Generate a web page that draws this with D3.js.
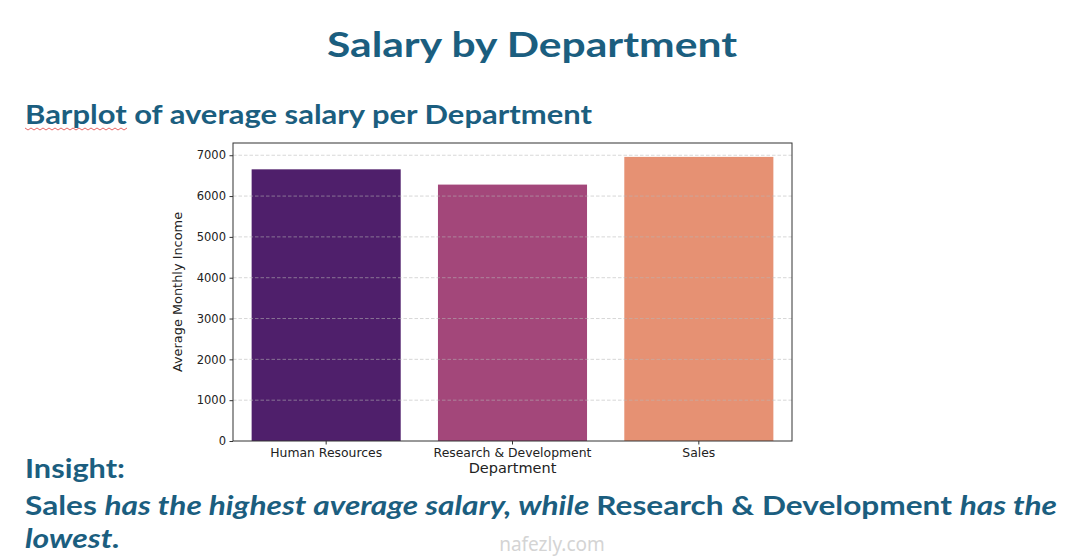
<!DOCTYPE html>
<meta charset="utf-8">
<script src="https://d3js.org/d3.v7.min.js"></script>
<style>
  body { margin: 0; background: #fff; }
</style>
<div id="dataviz"></div>

<script>
// data
const departments = ["Human Resources", "Research & Development", "Sales"];
const avgIncome = [6655, 6281, 6960];
const barColors = ["#4f1f6b", "#a3477a", "#e69173"];
const yTicks = [0, 1000, 2000, 3000, 4000, 5000, 6000, 7000];

const W = 1071, H = 556;
const blue = "#1b5e7f";

var svg = d3.select("#dataviz")
  .append("svg")
    .attr("width", W)
    .attr("height", H);

// slide headings
svg.append("text")
  .attr("x", 327).attr("y", 57)
  .attr("textLength", 410).attr("lengthAdjust", "spacingAndGlyphs")
  .style("font-family", "Lato, 'Open Sans', sans-serif")
  .style("font-weight", "bold").style("font-size", "35px")
  .attr("fill", blue)
  .text("Salary by Department");

svg.append("text")
  .attr("x", 25).attr("y", 123.5)
  .attr("textLength", 567).attr("lengthAdjust", "spacingAndGlyphs")
  .style("font-family", "Lato, 'Open Sans', sans-serif")
  .style("font-weight", "bold").style("font-size", "27px")
  .attr("fill", blue)
  .text("Barplot of average salary per Department");

// spell-check squiggle under "Barplot"
var sq = d3.path();
sq.moveTo(25, 128);
for (var i = 0; i < 34; i++) sq.lineTo(28 + i * 3, i % 2 ? 128 : 130);
svg.append("path").attr("d", sq.toString())
  .attr("fill", "none").attr("stroke", "#e04040").attr("stroke-width", 0.8);

// chart area
var margin = {left: 233, right: 792, top: 143, bottom: 441};

var x = d3.scaleBand()
  .domain(departments)
  .range([margin.left, margin.right])
  .paddingInner(0.2)
  .paddingOuter(0.1);

var y = d3.scaleLinear()
  .domain([0, 7300])
  .range([margin.bottom, margin.top]);

// bars
svg.append("g").selectAll("rect")
  .data(departments)
  .enter().append("rect")
    .attr("x", function(d) { return x(d); })
    .attr("width", x.bandwidth())
    .attr("y", function(d, i) { return y(avgIncome[i]); })
    .attr("height", function(d, i) { return y(0) - y(avgIncome[i]); })
    .attr("fill", function(d, i) { return barColors[i]; });

// dashed grid on top of bars
svg.append("g").selectAll("line")
  .data(yTicks.slice(1))
  .enter().append("line")
    .attr("x1", margin.left).attr("x2", margin.right)
    .attr("y1", function(d) { return y(d); })
    .attr("y2", function(d) { return y(d); })
    .attr("stroke", "#b8b8b8")
    .attr("stroke-opacity", 0.7)
    .attr("stroke-width", 0.8)
    .attr("stroke-dasharray", "3.5,2");

// frame
svg.append("rect")
  .attr("x", margin.left).attr("y", margin.top)
  .attr("width", margin.right - margin.left)
  .attr("height", margin.bottom - margin.top)
  .attr("fill", "none").attr("stroke", "#333").attr("stroke-width", 1);

// axes
var yAxis = svg.append("g")
  .attr("transform", "translate(" + margin.left + ",0)")
  .call(d3.axisLeft(y).tickValues(yTicks).tickFormat(d3.format("d")).tickSize(3.5).tickPadding(3.5));
var xAxis = svg.append("g")
  .attr("transform", "translate(0," + margin.bottom + ")")
  .call(d3.axisBottom(x).tickSize(3.5).tickPadding(3.5));

[yAxis, xAxis].forEach(function(a) {
  a.select(".domain").remove();
  a.selectAll("text")
    .style("font-family", "'DejaVu Sans', sans-serif")
    .style("font-size", "11.5px")
    .attr("fill", "#222");
  a.selectAll("line").attr("stroke", "#333");
});
xAxis.selectAll("text").style("font-size", "12.4px");

svg.append("text")
  .attr("transform", "translate(182," + ((margin.top + margin.bottom) / 2) + ") rotate(-90)")
  .attr("text-anchor", "middle")
  .style("font-family", "'DejaVu Sans', sans-serif")
  .style("font-size", "12.9px")
  .attr("fill", "#222")
  .text("Average Monthly Income");

svg.append("text")
  .attr("x", (margin.left + margin.right) / 2).attr("y", 473)
  .attr("text-anchor", "middle")
  .style("font-family", "'DejaVu Sans', sans-serif")
  .style("font-size", "14.5px")
  .attr("fill", "#222")
  .text("Department");

// watermark
svg.append("text")
  .attr("x", 552).attr("y", 551)
  .attr("text-anchor", "middle")
  .style("font-family", "'Noto Sans', sans-serif")
  .style("font-size", "19px")
  .attr("fill", "#d4d4d4")
  .text("nafezly.com");

// insight text
var insightFont = "Lato, 'Open Sans', sans-serif";
svg.append("text")
  .attr("x", 25).attr("y", 478)
  .attr("textLength", 100).attr("lengthAdjust", "spacingAndGlyphs")
  .style("font-family", insightFont)
  .style("font-weight", "bold").style("font-size", "27px")
  .attr("fill", blue)
  .text("Insight:");

var line2 = svg.append("text")
  .attr("x", 25).attr("y", 515)
  .attr("textLength", 1032).attr("lengthAdjust", "spacingAndGlyphs")
  .style("font-family", insightFont)
  .style("font-weight", "bold").style("font-size", "27px")
  .attr("fill", blue);
[["Sales ", "normal"],
 ["has the highest average salary, while ", "italic"],
 ["Research & Development ", "normal"],
 ["has the", "italic"]].forEach(function(p) {
  line2.append("tspan").style("font-style", p[1]).text(p[0]);
});

svg.append("text")
  .attr("x", 25).attr("y", 548)
  .attr("textLength", 95).attr("lengthAdjust", "spacingAndGlyphs")
  .style("font-family", insightFont)
  .style("font-weight", "bold").style("font-style", "italic").style("font-size", "27px")
  .attr("fill", blue)
  .text("lowest.");
</script>
